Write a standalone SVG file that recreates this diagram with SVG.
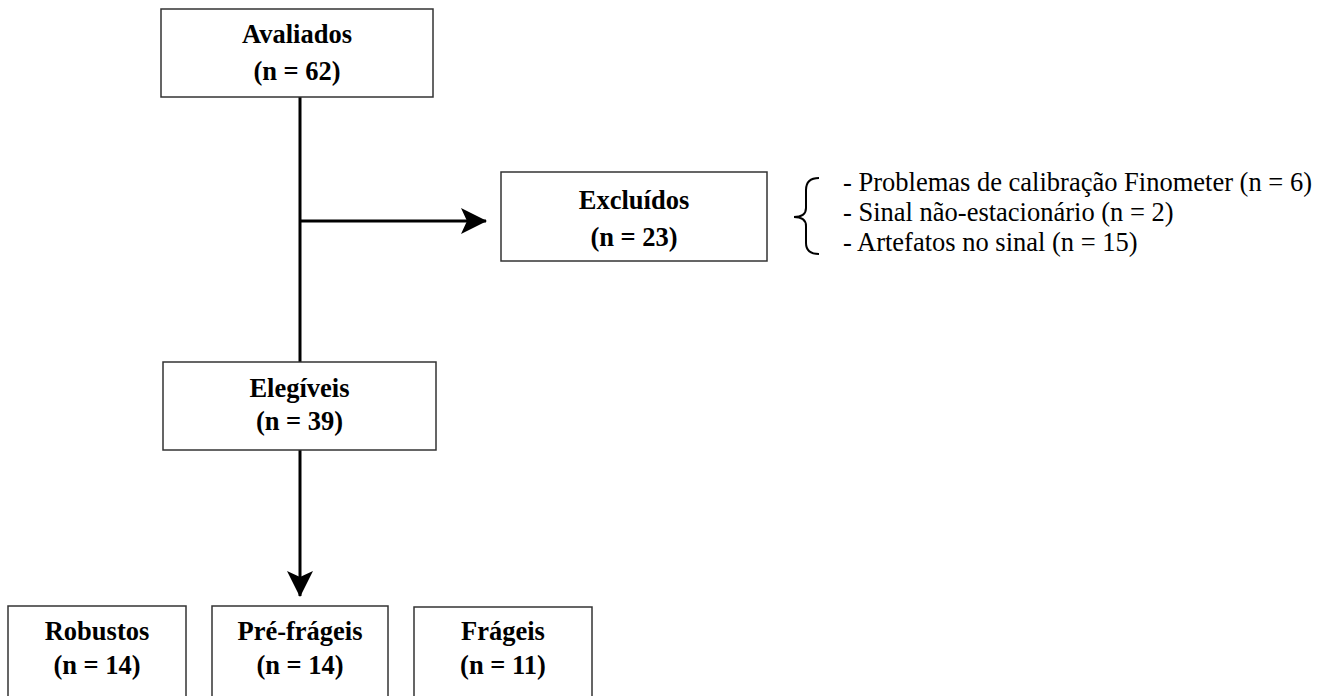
<svg xmlns="http://www.w3.org/2000/svg" width="1330" height="696" viewBox="0 0 1330 696">
<defs>
<style>
.box{fill:#fff;stroke:#333;stroke-width:1.5}
.bt{font-family:"Liberation Serif","Times New Roman",serif;font-weight:bold;font-size:26.5px;text-anchor:middle;fill:#000}
.lt{font-family:"Liberation Serif","Times New Roman",serif;font-size:26.5px;fill:#000}
.ln{stroke:#000;stroke-width:3;fill:none}
</style>
<marker id="ah" markerUnits="userSpaceOnUse" viewBox="0 0 26 26" refX="25" refY="13" markerWidth="26" markerHeight="26" orient="auto">
<path d="M0,0 L26,13 L0,26 L6,13 Z" fill="#000"/>
</marker>
</defs>
<rect width="1330" height="696" fill="#fff"/>
<g id="connectors">
<line class="ln" x1="300" y1="97" x2="300" y2="362"/>
<line class="ln" x1="300" y1="221" x2="486" y2="221" marker-end="url(#ah)"/>
<line class="ln" x1="300" y1="450" x2="300" y2="596" marker-end="url(#ah)"/>
</g>
<g id="avaliados">
<rect class="box" x="161" y="9" width="272" height="88"/>
<text class="bt" x="297" y="43">Avaliados</text>
<text class="bt" x="297" y="80">(n = 62)</text>
</g>
<g id="excluidos">
<rect class="box" x="501" y="172" width="266" height="89"/>
<text class="bt" x="634" y="209">Excluídos</text>
<text class="bt" x="634" y="246">(n = 23)</text>
</g>
<g id="motivos">
<path d="M819,178 Q806,178 806,190 L806,208 Q806,217 794,217 Q806,217 806,226 L806,243 Q806,254 819,254" fill="none" stroke="#000" stroke-width="2"/>
<text class="lt" x="843" y="191">- Problemas de calibração Finometer (n = 6)</text>
<text class="lt" x="843" y="221">- Sinal não-estacionário (n = 2)</text>
<text class="lt" x="843" y="251">- Artefatos no sinal (n = 15)</text>
</g>
<g id="elegiveis">
<rect class="box" x="163" y="362" width="273" height="88"/>
<text class="bt" x="299.5" y="397">Elegíveis</text>
<text class="bt" x="299.5" y="430">(n = 39)</text>
</g>
<g id="robustos">
<rect class="box" x="8" y="606" width="178" height="100"/>
<text class="bt" x="97" y="640">Robustos</text>
<text class="bt" x="97" y="674">(n = 14)</text>
</g>
<g id="prefrageis">
<rect class="box" x="212" y="606" width="176" height="100"/>
<text class="bt" x="300" y="640">Pré-frágeis</text>
<text class="bt" x="300" y="674">(n = 14)</text>
</g>
<g id="frageis">
<rect class="box" x="414" y="607" width="178" height="100"/>
<text class="bt" x="503" y="640">Frágeis</text>
<text class="bt" x="503" y="674">(n = 11)</text>
</g>
</svg>
